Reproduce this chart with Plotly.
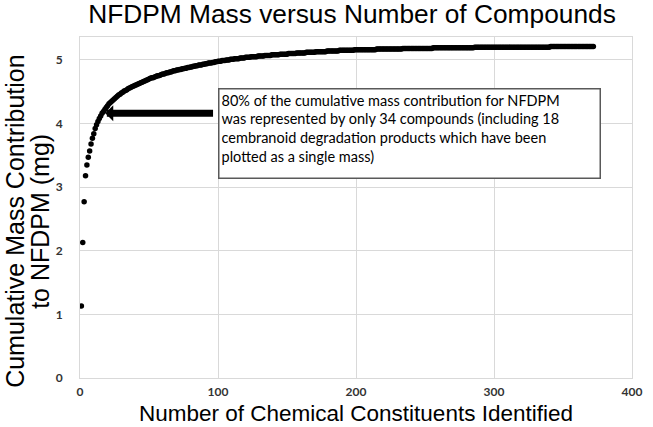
import plotly.graph_objects as go

# cumulative NFDPM mass (mg) after each added compound
mass = [
    1.13, 2.13, 2.77, 3.18, 3.35, 3.47, 3.57, 3.68, 3.77, 3.84,
    3.92, 3.98, 4.03, 4.08, 4.12, 4.16, 4.19, 4.22, 4.25, 4.28,
    4.31, 4.33, 4.35, 4.37, 4.39, 4.41, 4.43, 4.45, 4.46, 4.48,
    4.49, 4.51, 4.52, 4.53, 4.55, 4.56, 4.57, 4.58, 4.59, 4.60,
    4.61, 4.62, 4.63, 4.64, 4.65, 4.66, 4.67, 4.68, 4.69, 4.70,
    4.71, 4.72, 4.72, 4.73, 4.74, 4.75, 4.75, 4.76, 4.77, 4.78,
    4.78, 4.79, 4.80, 4.80, 4.81, 4.81, 4.82, 4.83, 4.83, 4.84,
    4.84, 4.85, 4.85, 4.86, 4.86, 4.87, 4.87, 4.88, 4.88, 4.89,
    4.89, 4.90, 4.90, 4.91, 4.91, 4.92, 4.92, 4.92, 4.93, 4.93,
    4.94, 4.94, 4.95, 4.95, 4.95, 4.96, 4.96, 4.97, 4.97, 4.98,
    4.98, 4.98, 4.99, 4.99, 4.99, 5.00, 5.00, 5.00, 5.01, 5.01,
    5.01, 5.02, 5.02, 5.02, 5.02, 5.03, 5.03, 5.03, 5.03, 5.04,
    5.04, 5.04, 5.04, 5.05, 5.05, 5.05, 5.05, 5.05, 5.06, 5.06,
    5.06, 5.06, 5.06, 5.07, 5.07, 5.07, 5.07, 5.07, 5.08, 5.08,
    5.08, 5.08, 5.08, 5.08, 5.09, 5.09, 5.09, 5.09, 5.09, 5.09,
    5.10, 5.10, 5.10, 5.10, 5.10, 5.10, 5.11, 5.11, 5.11, 5.11,
    5.11, 5.11, 5.11, 5.12, 5.12, 5.12, 5.12, 5.12, 5.12, 5.12,
    5.13, 5.13, 5.13, 5.13, 5.13, 5.13, 5.13, 5.13, 5.14, 5.14,
    5.14, 5.14, 5.14, 5.14, 5.14, 5.14, 5.14, 5.15, 5.15, 5.15,
    5.15, 5.15, 5.15, 5.15, 5.15, 5.15, 5.15, 5.15, 5.16, 5.16,
    5.16, 5.16, 5.16, 5.16, 5.16, 5.16, 5.16, 5.16, 5.16, 5.16,
    5.16, 5.16, 5.16, 5.16, 5.17, 5.17, 5.17, 5.17, 5.17, 5.17,
    5.17, 5.17, 5.17, 5.17, 5.17, 5.17, 5.17, 5.17, 5.17, 5.17,
    5.17, 5.17, 5.17, 5.18, 5.18, 5.18, 5.18, 5.18, 5.18, 5.18,
    5.18, 5.18, 5.18, 5.18, 5.18, 5.18, 5.18, 5.18, 5.18, 5.18,
    5.18, 5.18, 5.18, 5.18, 5.18, 5.19, 5.19, 5.19, 5.19, 5.19,
    5.19, 5.19, 5.19, 5.19, 5.19, 5.19, 5.19, 5.19, 5.19, 5.19,
    5.19, 5.19, 5.19, 5.19, 5.19, 5.19, 5.19, 5.19, 5.19, 5.19,
    5.19, 5.19, 5.19, 5.19, 5.19, 5.20, 5.20, 5.20, 5.20, 5.20,
    5.20, 5.20, 5.20, 5.20, 5.20, 5.20, 5.20, 5.20, 5.20, 5.20,
    5.20, 5.20, 5.20, 5.20, 5.20, 5.20, 5.20, 5.20, 5.20, 5.20,
    5.20, 5.20, 5.20, 5.20, 5.20, 5.20, 5.20, 5.20, 5.20, 5.20,
    5.20, 5.20, 5.20, 5.20, 5.20, 5.20, 5.20, 5.20, 5.20, 5.20,
    5.20, 5.20, 5.20, 5.20, 5.20, 5.20, 5.20, 5.20, 5.20, 5.20,
    5.21, 5.21, 5.21, 5.21, 5.21, 5.21, 5.21, 5.21, 5.21, 5.21,
    5.21, 5.21, 5.21, 5.21, 5.21, 5.21, 5.21, 5.21, 5.21, 5.21,
    5.21, 5.21, 5.21, 5.21, 5.21, 5.21, 5.21, 5.21, 5.21, 5.21,
    5.21, 5.21,
]
compounds = list(range(1, len(mass) + 1))

x_ticks = [0, 100, 200, 300, 400]
y_ticks = [0, 1, 2, 3, 4, 5]

# where the callout arrow points and where its tail starts
arrow_tip = (18.3, 4.16)
arrow_tail_x = 97.5
note_text = ("80% of the cumulative mass contribution for NFDPM<br>"
             "was represented by only 34 compounds (including 18<br>"
             "cembranoid degradation products which have been<br>"
             "plotted as a single mass)")

grid = "#d9d9d9"
tick_font = dict(family="Lato", size=12, color="#333333", weight="bold")

fig = go.Figure()
fig.add_trace(go.Scatter(x=compounds, y=mass, mode="markers",
                         marker=dict(color="black", size=5.5, line=dict(width=0)),
                         showlegend=False))

fig.update_layout(
    width=653, height=427,
    margin=dict(l=80, r=11, t=37, b=49),
    plot_bgcolor="white", paper_bgcolor="white",
    title=dict(text="NFDPM Mass versus Number of Compounds",
               font=dict(family="Liberation Sans", size=26.3, color="black"),
               x=352 / 653, xref="container", xanchor="center",
               y=1 - 14 / 427, yref="container", yanchor="middle"),
    xaxis=dict(range=[0, 400], tickvals=x_ticks, showgrid=True, gridcolor=grid,
               showline=True, linecolor=grid, mirror=True, zeroline=False,
               tickfont=tick_font, ticks="", ticklabelstandoff=3),
    yaxis=dict(range=[0, 5.36], tickvals=y_ticks, showgrid=True, gridcolor=grid,
               showline=True, linecolor=grid, mirror=True, zeroline=False,
               tickfont=tick_font, ticks="", ticklabelstandoff=14),
)

axis_font = dict(family="Liberation Sans", size=22.5, color="black")
fig.add_annotation(text="Number of Chemical Constituents Identified",
                   xref="paper", yref="paper", x=0.5, y=-0.104,
                   xanchor="center", yanchor="middle", showarrow=False,
                   font=axis_font)
ytitle_font = dict(family="Liberation Sans", size=25, color="black")
fig.add_annotation(text="Cumulative Mass Contribution", textangle=-90,
                   xref="paper", yref="paper", x=-0.1183, y=0.46,
                   xanchor="center", yanchor="middle", showarrow=False,
                   font=ytitle_font)
fig.add_annotation(text="to NFDPM (mg)", textangle=-90,
                   xref="paper", yref="paper", x=-0.073, y=0.46,
                   xanchor="center", yanchor="middle", showarrow=False,
                   font=ytitle_font)

# callout box
fig.add_annotation(text=note_text, x=100, y=4.555, xref="x", yref="y",
                   xanchor="left", yanchor="top", align="left", valign="top",
                   width=376, height=84, showarrow=False,
                   bgcolor="white", bordercolor="#595959", borderwidth=1.5, borderpad=2,
                   font=dict(family="Lato", size=14.5, color="black"))
# thick arrow into the curve
fig.add_annotation(text="", x=arrow_tip[0], y=arrow_tip[1], xref="x", yref="y",
                   ax=arrow_tail_x, ay=arrow_tip[1], axref="x", ayref="y",
                   showarrow=True, arrowhead=1, arrowsize=0.38, arrowwidth=7,
                   arrowcolor="black")

# the page body has an 8px default margin; drop it so the chart sits at 0,0
fig.write_html("out.html", config={"displayModeBar": False},
               post_script="document.body.style.margin='0';")
